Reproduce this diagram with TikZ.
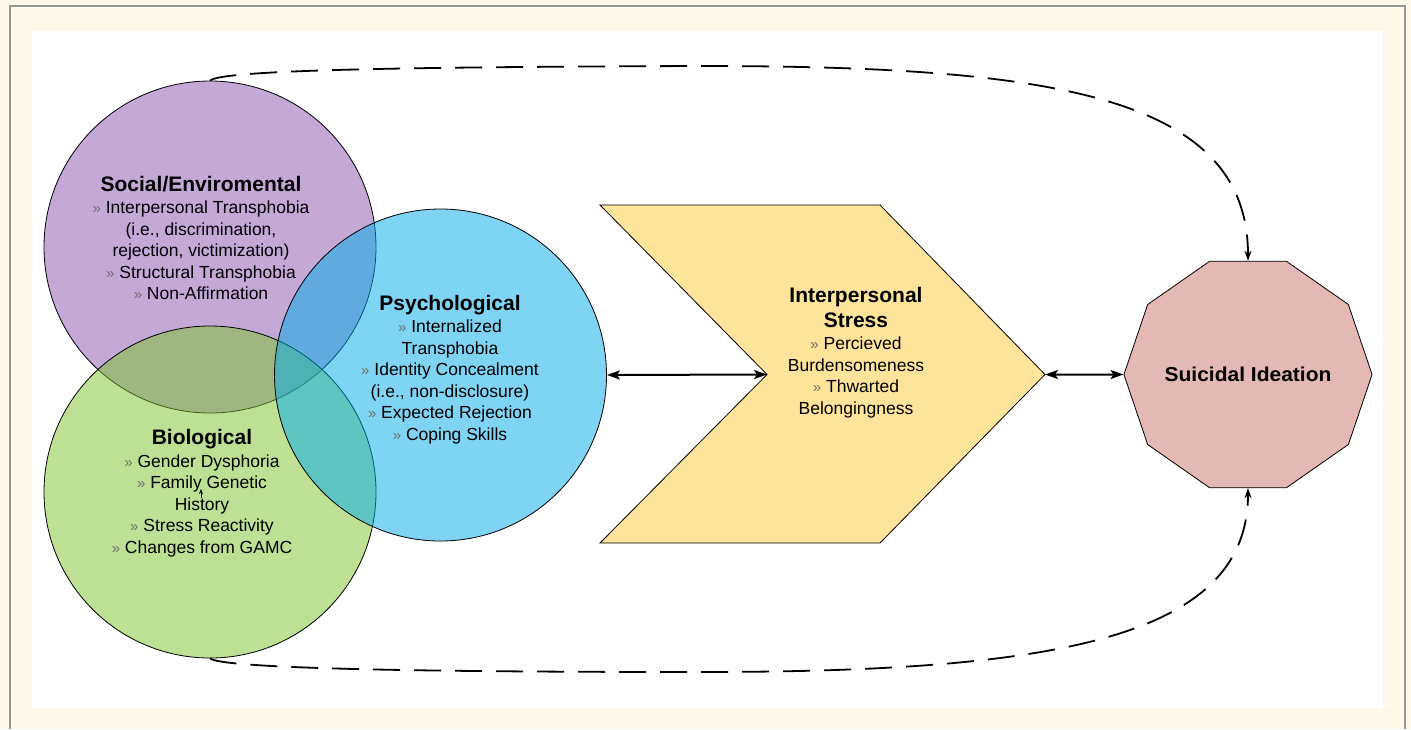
\documentclass[tikz,border=0pt]{standalone}
\usepackage{fontspec}
\setmainfont{Liberation Sans}
\usetikzlibrary{arrows.meta,shapes.geometric}

\definecolor{cream}{RGB}{255,248,234}
\definecolor{framegray}{RGB}{150,150,150}
\definecolor{socialc}{RGB}{139,85,175}
\definecolor{bioc}{RGB}{125,195,45}
\definecolor{psychc}{RGB}{0,171,235}
\definecolor{stressc}{RGB}{254,228,154}
\definecolor{ideac}{RGB}{228,184,181}
\definecolor{bulletgray}{RGB}{110,110,110}

\newcommand{\bul}{{\color{bulletgray}\fontsize{15}{15}\selectfont »}~}
\newcommand{\ttl}[1]{{\fontsize{21}{21}\selectfont\bfseries #1}}

\begin{document}
\begin{tikzpicture}[x=1pt,y=-1pt,
    ring/.style={circle,draw,line width=0.8pt,minimum size=332pt,inner sep=0pt,fill opacity=0.5},
    blurb/.style={align=center,inner sep=0pt,anchor=north,font=\fontsize{17.5}{21.5}\selectfont},
    twoway/.style={{Stealth[length=13pt,width=9pt,inset=3pt]}-{Stealth[length=13pt,width=9pt,inset=3pt]},line width=2pt},
    loopback/.style={-{Stealth[length=10pt,width=7pt]},line width=1.8pt,dash pattern=on 27pt off 14pt}]
        % Page and frame
        \fill[cream] (0,0) rectangle (1411,729);
        \useasboundingbox (0,0) rectangle (1411,729);
        \draw[framegray,line width=1.5pt] (10,729) -- (10,6) -- (1405,6) -- (1405,729);
        \fill[white] (32,31) rectangle (1383,708);
        % The three overlapping domains
        \node[ring,fill=socialc] (social) at (210,247) {};
        \node[ring,fill=bioc] (bio) at (210,492) {};
        \node[ring,fill=psychc] (psych) at (440.5,375) {};
        \node[blurb] (socialtxt) at (201,176) {\ttl{Social/Enviromental}\\[1pt] \bul Interpersonal Transphobia\\ (i.e., discrimination,\\ rejection, victimization)\\ \bul Structural Transphobia\\ \bul Non-Affirmation};
        \node[blurb] (psychtxt) at (450,295) {\ttl{Psychological}\\[1pt] \bul Internalized\\ Transphobia\\ \bul Identity Concealment\\ (i.e., non-disclosure)\\ \bul Expected Rejection\\ \bul Coping Skills};
        \node[blurb] (biotxt) at (202,429.5) {\ttl{Biological}\\[1pt] \bul Gender Dysphoria\\ \bul Family Genetic\\ History\\ \bul Stress Reactivity\\ \bul Changes from GAMC};
        % stray tick under "Family Genetic"
        \coordinate (stub-a) at (201,498);
        \coordinate (stub-b) at (201,489);
        \draw[-{Stealth[length=5pt,width=4pt]},line width=0.7pt] (stub-a) -- (stub-b);
        % Chevron
        \coordinate (ch-nw) at (600,205);
        \coordinate (ch-ne) at (880,205);
        \coordinate (ch-tip) at (1045,374.5);
        \coordinate (ch-se) at (880,543);
        \coordinate (ch-sw) at (600,543);
        \coordinate (ch-notch) at (767,374.5);
        \draw[fill=stressc,line width=0.8pt] (ch-nw) -- (ch-ne) -- (ch-tip) -- (ch-se) -- (ch-sw) -- (ch-notch) -- cycle;
        \node[blurb] (stresstxt) at (856,287) {\ttl{Interpersonal}\\[3.5pt] \ttl{Stress}\\[1pt] \bul Percieved\\ Burdensomeness\\ \bul Thwarted\\ Belongingness};
        % Outcome
        \node[regular polygon,regular polygon sides=10,minimum size=246pt,inner sep=0pt,draw,line width=0.8pt,fill=ideac,yscale=0.96,font=\fontsize{21}{21}\selectfont\bfseries] (ideation) at (1248,374.5) {Suicidal Ideation};
        % Links
        \draw[twoway] (psych.east) -- (ch-notch);
        \draw[twoway] (ch-tip) -- (ideation.west);
        \draw[loopback] (social.north) .. controls (222,70) and (400,67) .. (700,66) .. controls (1050,66) and (1248,95) .. (ideation.north);
        \draw[loopback] (bio.south) .. controls (222,668) and (400,672) .. (700,672) .. controls (1050,672) and (1248,640) .. (ideation.south);
\end{tikzpicture}
\end{document}
